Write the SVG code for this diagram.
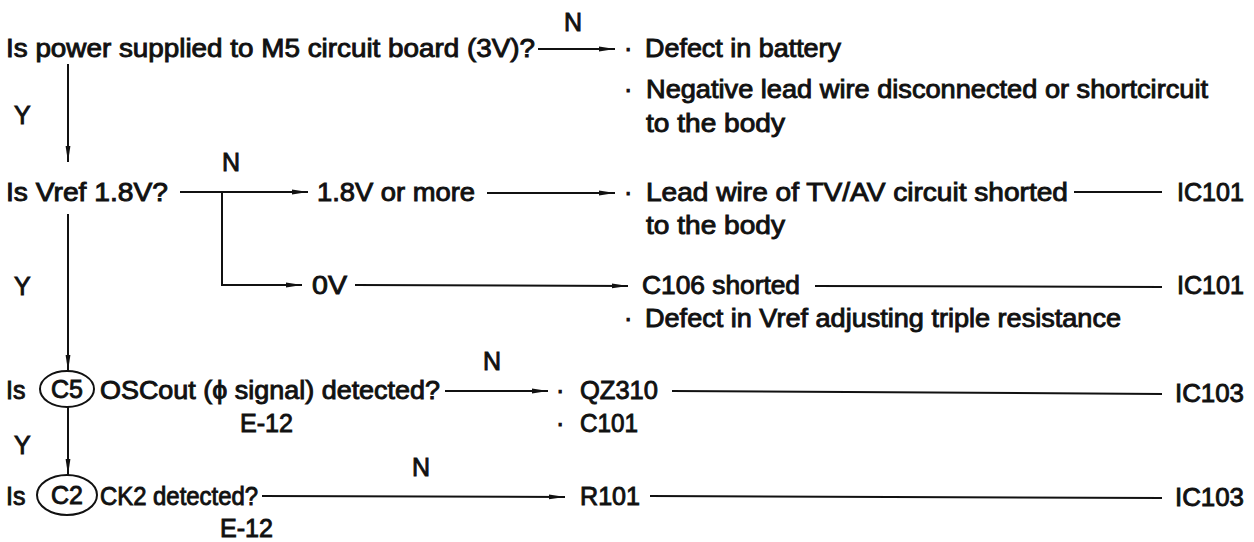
<svg xmlns="http://www.w3.org/2000/svg" width="1254" height="542" viewBox="0 0 1254 542">
<style>
text{font-family:"Liberation Sans",Arial,sans-serif;font-size:25px;fill:#111;stroke:#111;stroke-width:0.9px}
.c{stroke:#111;stroke-width:2;fill:none}
.e{stroke:#111;stroke-width:2;fill:#fff}
</style>
<defs>
<marker id="a" viewBox="0 0 16 6" refX="16" refY="3" markerWidth="16" markerHeight="6" markerUnits="userSpaceOnUse" orient="auto">
<path d="M0,0.6 L16,3 L0,5.4 z" fill="#111"/>
</marker>
</defs>
<rect width="1254" height="542" fill="#fff"/>
<g id="connectors">
<line class="c" x1="538" y1="49" x2="615" y2="49" marker-end="url(#a)"/>
<line class="c" x1="68" y1="64" x2="68" y2="162" marker-end="url(#a)"/>
<line class="c" x1="180" y1="192" x2="308" y2="192" marker-end="url(#a)"/>
<polyline class="c" points="222,192 222,285 302,285" marker-end="url(#a)"/>
<line class="c" x1="487" y1="193" x2="615" y2="193" marker-end="url(#a)"/>
<line class="c" x1="355" y1="285" x2="628" y2="286" marker-end="url(#a)"/>
<line class="c" x1="1074" y1="192" x2="1162" y2="192"/>
<line class="c" x1="815" y1="286" x2="1162" y2="287"/>
<line class="c" x1="68" y1="214" x2="68" y2="371" marker-end="url(#a)"/>
<line class="c" x1="445" y1="391" x2="548" y2="391" marker-end="url(#a)"/>
<line class="c" x1="672" y1="391" x2="1162" y2="394"/>
<line class="c" x1="68" y1="407" x2="68" y2="475" marker-end="url(#a)"/>
<line class="c" x1="262" y1="496" x2="565" y2="497" marker-end="url(#a)"/>
<line class="c" x1="650" y1="496" x2="1162" y2="498"/>
</g>
<g id="labels">
<text x="564" y="31">N</text>
<text x="14" y="124">Y</text>
<text x="222" y="171">N</text>
<text x="14" y="295">Y</text>
<text x="483" y="370">N</text>
<text x="14" y="454">Y</text>
<text x="412" y="476">N</text>
</g>
<g id="q1"><text x="6" y="57" textLength="529" lengthAdjust="spacingAndGlyphs">Is power supplied to M5 circuit board (3V)?</text></g>
<g id="r1">
<text x="624" y="57">·</text><text x="645" y="57" textLength="196" lengthAdjust="spacingAndGlyphs">Defect in battery</text>
<text x="624" y="98">·</text><text x="646" y="98" textLength="562" lengthAdjust="spacingAndGlyphs">Negative lead wire disconnected or shortcircuit</text>
<text x="646" y="132" textLength="139" lengthAdjust="spacingAndGlyphs">to the body</text>
</g>
<g id="q2"><text x="6" y="201" textLength="162" lengthAdjust="spacingAndGlyphs">Is Vref 1.8V?</text></g>
<g id="n18"><text x="317" y="201" textLength="158" lengthAdjust="spacingAndGlyphs">1.8V or more</text></g>
<g id="n0v"><text x="312" y="294" textLength="35" lengthAdjust="spacingAndGlyphs">0V</text></g>
<g id="r2">
<text x="624" y="201">·</text><text x="646" y="201" textLength="422" lengthAdjust="spacingAndGlyphs">Lead wire of TV/AV circuit shorted</text>
<text x="646" y="234" textLength="139" lengthAdjust="spacingAndGlyphs">to the body</text>
</g>
<g id="ic1"><text x="1177" y="201" textLength="67" lengthAdjust="spacingAndGlyphs">IC101</text></g>
<g id="r3">
<text x="642" y="294" textLength="158" lengthAdjust="spacingAndGlyphs">C106 shorted</text>
<text x="624" y="327">·</text><text x="645" y="327" textLength="476" lengthAdjust="spacingAndGlyphs">Defect in Vref adjusting triple resistance</text>
</g>
<g id="ic2"><text x="1177" y="294" textLength="67" lengthAdjust="spacingAndGlyphs">IC101</text></g>
<g id="q3">
<text x="6" y="399">Is</text>
<ellipse class="e" cx="67" cy="389" rx="27" ry="18"/>
<text x="67" y="398" text-anchor="middle">C5</text>
<text x="100" y="399" textLength="340" lengthAdjust="spacingAndGlyphs">OSCout (ϕ signal) detected?</text>
<text x="240" y="432" textLength="53" lengthAdjust="spacingAndGlyphs">E-12</text>
</g>
<g id="r4">
<text x="556" y="399">·</text><text x="580" y="399" textLength="78" lengthAdjust="spacingAndGlyphs">QZ310</text>
<text x="556" y="432">·</text><text x="580" y="432" textLength="58" lengthAdjust="spacingAndGlyphs">C101</text>
</g>
<g id="ic3"><text x="1175" y="402" textLength="69" lengthAdjust="spacingAndGlyphs">IC103</text></g>
<g id="q4">
<text x="6" y="505">Is</text>
<ellipse class="e" cx="67" cy="495" rx="30" ry="20"/>
<text x="67" y="504" text-anchor="middle">C2</text>
<text x="100" y="505" textLength="158" lengthAdjust="spacingAndGlyphs">CK2 detected?</text>
<text x="220" y="537" textLength="53" lengthAdjust="spacingAndGlyphs">E-12</text>
</g>
<g id="r5"><text x="580" y="505" textLength="60" lengthAdjust="spacingAndGlyphs">R101</text></g>
<g id="ic4"><text x="1175" y="506" textLength="69" lengthAdjust="spacingAndGlyphs">IC103</text></g>
</svg>
